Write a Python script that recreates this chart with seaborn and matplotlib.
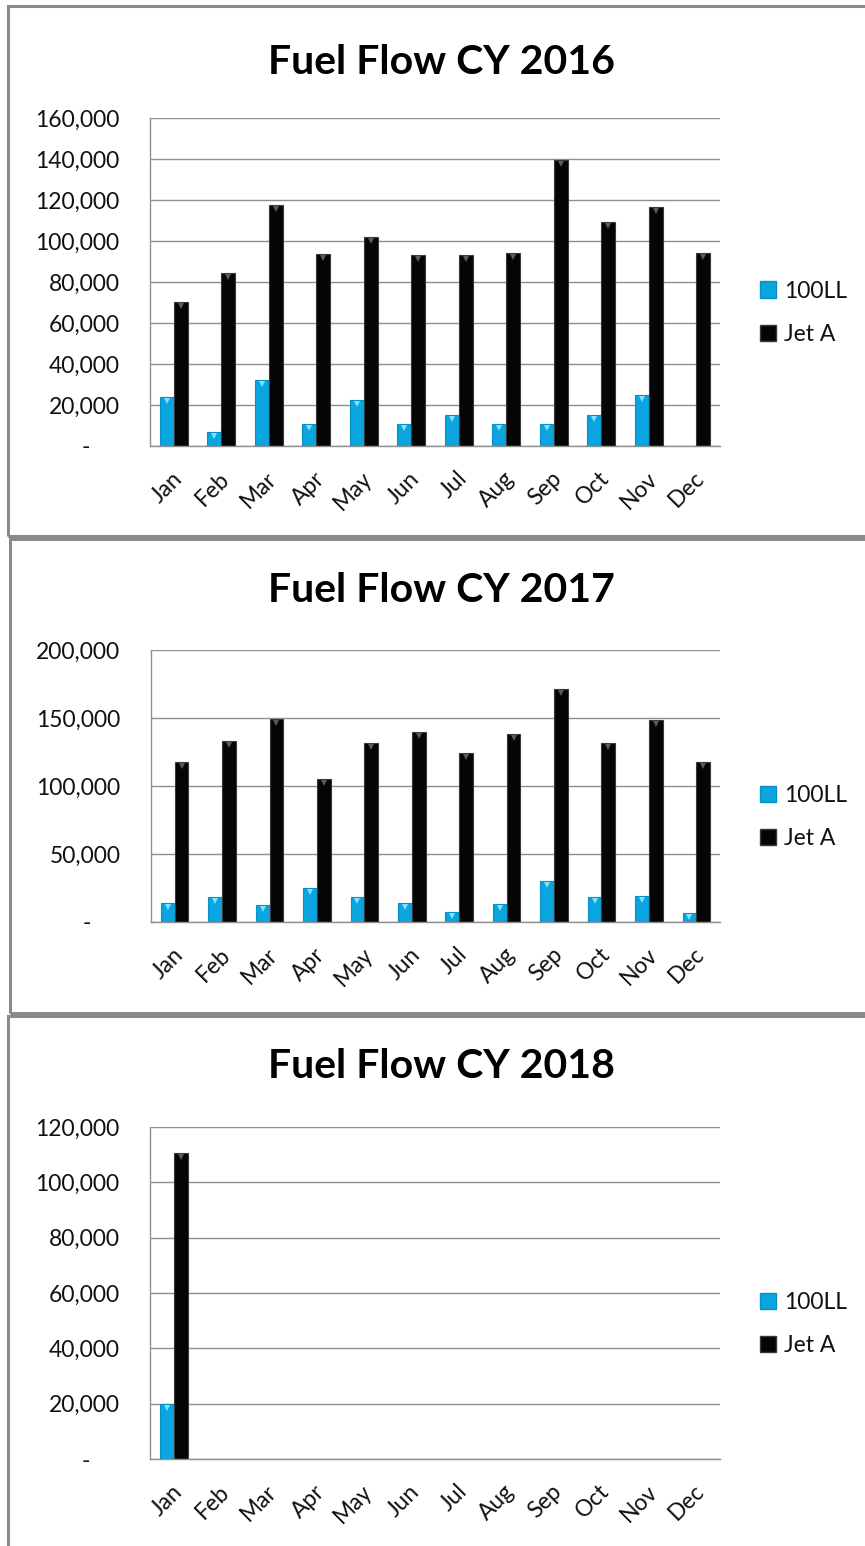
import numpy as np
import pandas as pd
import matplotlib
matplotlib.use("Agg")
import matplotlib.pyplot as plt
import matplotlib.patches as mpatches
import matplotlib.ticker as mticker
from matplotlib.transforms import offset_copy, ScaledTranslation
import seaborn as sns

# ---- data (gallons per month) ----
months = ['Jan', 'Feb', 'Mar', 'Apr', 'May', 'Jun', 'Jul', 'Aug', 'Sep', 'Oct', 'Nov', 'Dec']
fuels = ['100LL', 'Jet A']

ll_2016 = [23700, 6800, 32200, 10700, 22400, 10700, 15000, 10700, 10700, 15000, 24900, np.nan]
jet_2016 = [70400, 84200, 117400, 93700, 102000, 93000, 93000, 94100, 139500, 109300, 116700, 94100]

ll_2017 = [14200, 18100, 12300, 25000, 18100, 14200, 7400, 13200, 30100, 18100, 19100, 6400]
jet_2017 = [117600, 133100, 149500, 105400, 131800, 139700, 124300, 138500, 171100, 131800, 148300, 117600]

ll_2018 = [19800, np.nan, np.nan, np.nan, np.nan, np.nan, np.nan, np.nan, np.nan, np.nan, np.nan, np.nan]
jet_2018 = [110600, np.nan, np.nan, np.nan, np.nan, np.nan, np.nan, np.nan, np.nan, np.nan, np.nan, np.nan]

years = ['2016', '2017', '2018']
y_max = [160000, 200000, 120000]
y_step = [20000, 50000, 20000]

CYAN = '#0AA5DE'
BLACK = '#050505'
GRID = '#8f8f8f'
BORDER = '#8a8a8a'
TEXT = '#111111'

sns.set_theme(style="white")
plt.rcParams['font.family'] = ['Lato', 'DejaVu Sans']

W, H = 865, 1546
fig = plt.figure(figsize=(W / 100, H / 100), dpi=100)
fig.patch.set_facecolor('white')

# pixel layout: (panel box top, bottom, left), plot area (left, right, top, bottom), title y, legend y
boxes = [(6, 536, 8), (539, 1013, 10), (1016, 1560, 8)]
areas = [(150, 720, 118, 446), (151, 720, 650, 922), (150, 720, 1127, 1459)]
title_y = [62, 590, 1066]
legend_y = [313, 817, 1324]

data_by_year = [(ll_2016, jet_2016), (ll_2017, jet_2017), (ll_2018, jet_2018)]


def yfmt(v, pos):
    if v == 0:
        return '-     '
    return f'{v:,.0f}'


for i, year in enumerate(years):
    top, bot, left = boxes[i]
    fig.add_artist(mpatches.Rectangle((left / W, 1 - bot / H), (W + 20 - left) / W, (bot - top) / H,
                                      transform=fig.transFigure, fill=False,
                                      edgecolor=BORDER, lw=2.2))

    x0, x1, y0, y1 = areas[i]
    ax = fig.add_axes([x0 / W, 1 - y1 / H, (x1 - x0) / W, (y1 - y0) / H])

    ll, jet = data_by_year[i]
    df = pd.DataFrame({
        'month': months * 2,
        'fuel': [fuels[0]] * 12 + [fuels[1]] * 12,
        'gallons': list(ll) + list(jet),
    })

    sns.barplot(data=df, x='month', y='gallons', hue='fuel', order=months, hue_order=fuels,
                palette=[CYAN, BLACK], width=0.58, errorbar=None, legend=False,
                saturation=1, ax=ax)

    # bevel-like look of the Excel bars
    tri_tr = offset_copy(ax.transData, fig=fig, y=-4, units='dots')
    for p in ax.patches:
        h = p.get_height()
        if not np.isfinite(h) or h <= 0:
            continue
        is_cyan = np.allclose(p.get_facecolor()[:3], matplotlib.colors.to_rgb(CYAN), atol=0.02)
        p.set_edgecolor('#0890c4' if is_cyan else '#3a3a3a')
        p.set_linewidth(0.8)
        xc = p.get_x() + p.get_width() / 2
        ax.plot([xc], [h], marker='v', ms=5, mew=0,
                color='#7fe3ff' if is_cyan else '#5a5a5a', transform=tri_tr)

    ax.set_xlim(-0.5, 11.5)
    ax.set_ylim(0, y_max[i])
    ax.yaxis.set_major_locator(mticker.MultipleLocator(y_step[i]))
    ax.yaxis.set_major_formatter(mticker.FuncFormatter(yfmt))
    ax.yaxis.grid(True, color=GRID, lw=1)
    ax.set_axisbelow(True)
    ax.set_xlabel('')
    ax.set_ylabel('')

    for s in ['top', 'right']:
        ax.spines[s].set_visible(False)
    for s in ['left', 'bottom']:
        ax.spines[s].set_color(GRID)
        ax.spines[s].set_linewidth(1)

    ax.tick_params(axis='y', length=0, pad=22, labelsize=16.5, labelcolor=TEXT)
    ax.tick_params(axis='x', length=0, pad=21, labelsize=16.5, labelcolor=TEXT)
    shift = ScaledTranslation(5 / 100, 0, fig.dpi_scale_trans)
    for lab in ax.get_xticklabels():
        lab.set_rotation(45)
        lab.set_ha('right')
        lab.set_va('center')
        lab.set_rotation_mode('anchor')
        lab.set_transform(lab.get_transform() + shift)

    handles = [mpatches.Patch(facecolor=CYAN, edgecolor='#0890c4'),
               mpatches.Patch(facecolor=BLACK, edgecolor='#3a3a3a')]
    ly = (y1 - legend_y[i]) / (y1 - y0)
    ax.legend(handles, fuels, loc='center left', bbox_to_anchor=((760 - x0) / (x1 - x0), ly),
              frameon=False, fontsize=16.5, handlelength=0.7, handleheight=0.7,
              handletextpad=0.35, labelspacing=1.0, borderaxespad=0, borderpad=0,
              labelcolor=TEXT)

    fig.text(441 / W, 1 - title_y[i] / H, f'Fuel Flow CY {year}', ha='center', va='center',
             fontsize=29.5, fontweight='bold', color='black')

fig.savefig('out.png', dpi=100, facecolor='white')
